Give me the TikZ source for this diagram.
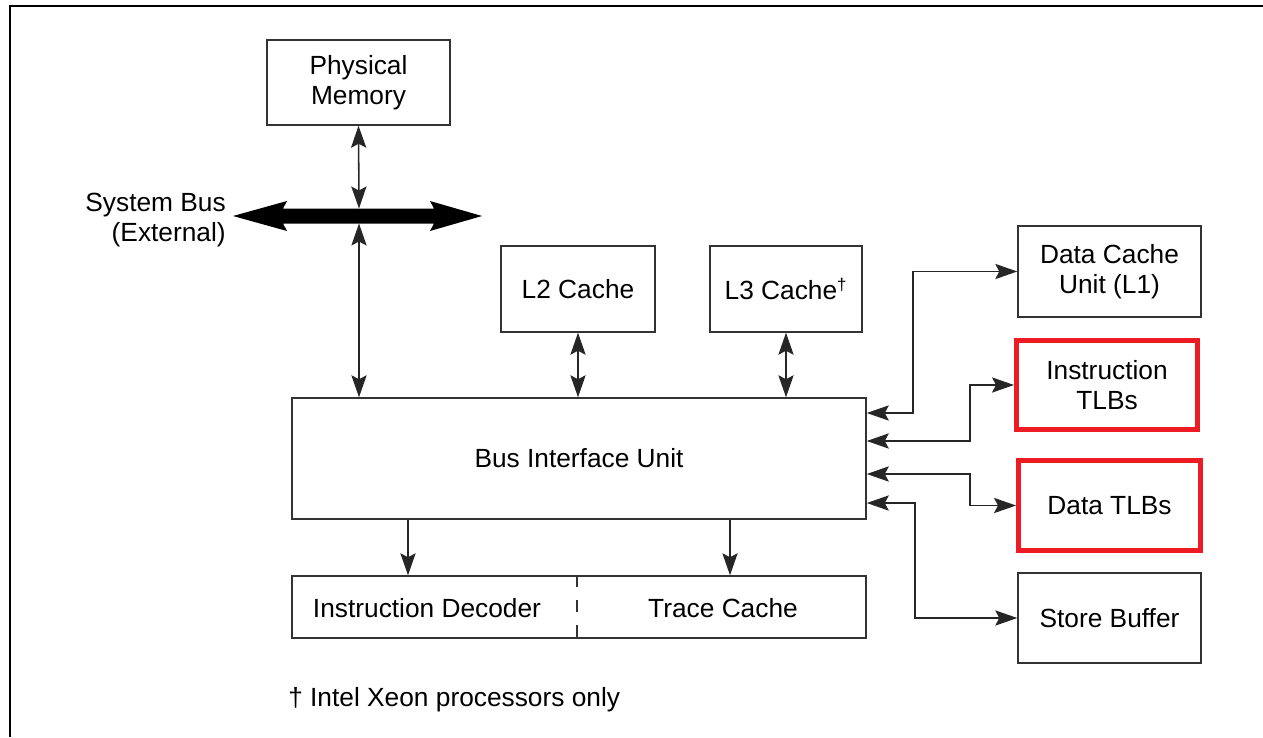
\documentclass[tikz,border=0pt]{standalone}
\usepackage{fontspec}
\setmainfont{Liberation Sans}
\usetikzlibrary{arrows.meta}
\definecolor{tlbred}{RGB}{237,28,36}
\tikzset{
  unit/.style={draw=black!80, line width=1pt, inner sep=0pt, align=center,
    font=\fontsize{18.7}{21.3}\selectfont},
  tlb/.style={unit, draw=tlbred, line width=3.5pt},
  link/.style={black!85, line width=1.1pt},
  label/.style={inner sep=0pt, align=right, font=\fontsize{18.7}{21.3}\selectfont}
}
\begin{document}
\begin{tikzpicture}[x=0.025cm,y=-0.025cm,>={Stealth[length=5.5mm,width=3.8mm,inset=1mm]}]
        \useasboundingbox (0,0) rectangle (1263,737);
        % Marco
        \draw[line width=1.5pt] (1263,6) -- (10,6) -- (10,737);

        % Bloques
        \node[unit, minimum width=4.575cm, minimum height=2.125cm, text depth=0.12cm] (pm) at (358.5,82.5) {Physical\\Memory};
        \node[unit, minimum width=3.85cm, minimum height=2.15cm] (l2) at (578,289) {L2 Cache};
        \node[unit, minimum width=3.8cm, minimum height=2.15cm] (l3) at (786,289) {L3 Cache\textsuperscript{\large†}};
        \node[unit, minimum width=14.35cm, minimum height=3.025cm] (biu) at (579,458.5) {\raisebox{-0.07cm}{Bus Interface Unit}};
        \node[unit, minimum width=14.35cm, minimum height=1.55cm] (ucode) at (579,607) {};
        \node[label] (dec) at (427,608) {Instruction Decoder};
        \node[label] (tc) at (723,608) {Trace Cache};
        \node[unit, minimum width=4.575cm, minimum height=2.275cm] (dcu) at (1109.5,271.5) {Data Cache\\Unit (L1)};
        \node[tlb, minimum width=4.525cm, minimum height=2.225cm] (itlb) at (1107,385) {Instruction\\TLBs};
        \node[tlb, minimum width=4.55cm, minimum height=2.25cm] (dtlb) at (1109.5,505.5) {Data TLBs};
        \node[unit, minimum width=4.575cm, minimum height=2.25cm] (sb) at (1109.5,618) {Store Buffer};

        % Bus del sistema
        \coordinate (busT) at (359,208.5);
        \coordinate (busB) at (359,223.5);
        \fill (233,216) -- (287,201) -- (283,208.5) -- (434,208.5) -- (430,201) -- (482,216)
              -- (430,231) -- (434,223.5) -- (283,223.5) -- (287,231) -- cycle;
        \node[label, anchor=east] (sysbus) at (226,220) {System Bus\\(External)};

        % Flechas
        \draw[link,<->] (pm.south) -- (busT);
        \draw[link,<->] (busB) -- (biu.north -| busB);
        \draw[link,<->] (l2.south) -- (l2.south |- biu.north);
        \draw[link,<->] (l3.south) -- (l3.south |- biu.north);
        \coordinate (decin) at (408,0);
        \coordinate (tcin) at (730,0);
        \draw[link,->] (biu.south -| decin) -- (ucode.north -| decin);
        \draw[link,->] (biu.south -| tcin) -- (ucode.north -| tcin);
        \draw[link,<->] ([yshift=1.1375cm]biu.east) -- ++(46,0) |- (dcu.west);
        \draw[link,<->] ([yshift=0.4375cm]biu.east) -- ++(103,0) |- (itlb.west);
        \draw[link,<->] ([yshift=-0.3875cm]biu.east) -- ++(103,0) |- (dtlb.west);
        \draw[link,<->] ([yshift=-1.1125cm]biu.east) -- ++(48,0) |- (sb.west);

        % Division punteada
        \coordinate (split) at (577,0);
        \draw[black!80, line width=1pt, dash pattern=on 0.3cm off 0.325cm] (ucode.north -| split) -- (ucode.south -| split);

        % Nota
        \node[label, anchor=west] (note) at (288,700) {† Intel Xeon processors only};
    \end{tikzpicture}
\end{document}
